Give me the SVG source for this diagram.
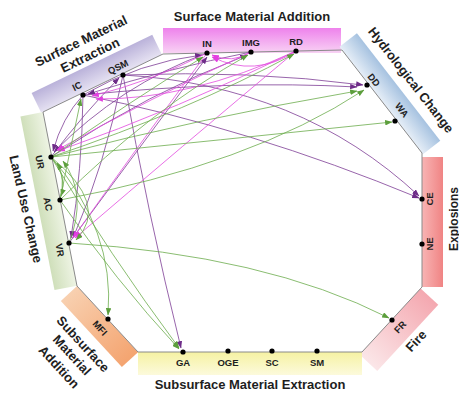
<svg xmlns="http://www.w3.org/2000/svg" width="459" height="394" viewBox="0 0 459 394">
<defs>
<style>
.e{fill:none;stroke-width:0.8}
.p{stroke:#7e3d96;marker-end:url(#ap)}
.m{stroke:#e24ade;marker-end:url(#am)}
.g{stroke:#6cac4c;marker-end:url(#ag)}
.dot{fill:#000}
.t{font-family:"Liberation Sans",Arial,sans-serif;font-weight:bold;fill:#1e1e1e}
.nl{font-size:9.5px}
.gl{font-size:13px}
.oct{fill:none;stroke:#8a8a8a;stroke-width:1}
</style>
<marker id="ap" viewBox="0 0 8 6" refX="7.5" refY="3" markerWidth="7.5" markerHeight="5.5" markerUnits="userSpaceOnUse" orient="auto"><path d="M0,0 L8,3 L0,6 z" fill="#6e2c88"/></marker>
<marker id="am" viewBox="0 0 8 6" refX="7.5" refY="3" markerWidth="7.5" markerHeight="5.5" markerUnits="userSpaceOnUse" orient="auto"><path d="M0,0 L8,3 L0,6 z" fill="#e33ee0"/></marker>
<marker id="ag" viewBox="0 0 8 6" refX="7.5" refY="3" markerWidth="7.5" markerHeight="5.5" markerUnits="userSpaceOnUse" orient="auto"><path d="M0,0 L8,3 L0,6 z" fill="#5c9e3c"/></marker>
<linearGradient id="gSMA" x1="0" y1="0" x2="0" y2="1"><stop offset="0" stop-color="#ee82ec"/><stop offset="1" stop-color="#f8d2f4"/></linearGradient>
<linearGradient id="gSME" x1="0" y1="0" x2="0" y2="1"><stop offset="0" stop-color="#bab2da"/><stop offset="1" stop-color="#e6e2f2"/></linearGradient>
<linearGradient id="gHC" x1="0" y1="0" x2="0" y2="1"><stop offset="0" stop-color="#a6c2e0"/><stop offset="1" stop-color="#e6eef7"/></linearGradient>
<linearGradient id="gEX" x1="0" y1="0" x2="1" y2="0"><stop offset="0" stop-color="#f8b4b4"/><stop offset="1" stop-color="#f08484"/></linearGradient>
<linearGradient id="gFI" x1="0" y1="0" x2="1" y2="0"><stop offset="0" stop-color="#f4a8b0"/><stop offset="1" stop-color="#fbe6e8"/></linearGradient>
<linearGradient id="gSSE" x1="0" y1="0" x2="0" y2="1"><stop offset="0" stop-color="#f6f2a2"/><stop offset="1" stop-color="#fcfadc"/></linearGradient>
<linearGradient id="gSSA" x1="0" y1="0" x2="1" y2="0"><stop offset="0" stop-color="#f8d0b0"/><stop offset="1" stop-color="#f4a470"/></linearGradient>
<linearGradient id="gLU" x1="0" y1="0" x2="0" y2="1"><stop offset="0" stop-color="#eef4e4"/><stop offset="1" stop-color="#cfdfba"/></linearGradient>
</defs>

<g id="bands">
<rect x="163" y="28" width="178" height="25" fill="url(#gSMA)"/>
<g transform="translate(43,112) rotate(-25.8)"><rect x="-2" y="-22" width="134" height="22" fill="url(#gSME)"/></g>
<g transform="translate(342,50) rotate(52.2)"><rect x="-4" y="-22" width="136" height="22" fill="url(#gHC)"/></g>
<rect x="422" y="157" width="21" height="130" fill="url(#gEX)"/>
<g transform="translate(422,287) rotate(132.7)"><rect x="2" y="-24" width="90" height="24" fill="url(#gFI)"/></g>
<rect x="138" y="352" width="224" height="23" fill="url(#gSSE)"/>
<g transform="translate(77,286) rotate(47.3)"><rect x="0" y="0" width="90" height="22" fill="url(#gSSA)"/></g>
<g transform="translate(43,112) rotate(78.9)"><rect x="0" y="0" width="177" height="23" fill="url(#gLU)"/></g>
<polygon class="oct" points="163,54 342,50 422,153 422,287 362,352 138,352 77,286 43,112"/>
</g>

<g id="group-labels" class="t gl">
<text x="252" y="21" text-anchor="middle">Surface Material Addition</text>
<g transform="translate(81,41) rotate(-25.8)"><text y="4.5" text-anchor="middle">Surface Material</text></g>
<g transform="translate(90,55) rotate(-25.8)"><text y="4.5" text-anchor="middle">Extraction</text></g>
<g transform="translate(411,80) rotate(52)"><text y="4.5" text-anchor="middle">Hydrological Change</text></g>
<g transform="translate(453,219) rotate(-90)"><text y="4.5" text-anchor="middle" font-size="12">Explosions</text></g>
<g transform="translate(416,341) rotate(-47.3)"><text y="4.5" text-anchor="middle">Fire</text></g>
<text x="250" y="389" text-anchor="middle">Subsurface Material Extraction</text>
<g transform="translate(83,344) rotate(47.3)"><text y="4.5" text-anchor="middle">Subsurface</text></g>
<g transform="translate(72,355) rotate(47.3)"><text y="4.5" text-anchor="middle">Material</text></g>
<g transform="translate(59,367) rotate(47.3)"><text y="4.5" text-anchor="middle">Addition</text></g>
<g transform="translate(26,209) rotate(77)"><text y="4.5" text-anchor="middle">Land Use Change</text></g>
</g>

<g id="connectors">
<path class="e p" d="M83,95 Q250,128 419,198"/>
<path class="e p" d="M123,75 Q300,85 419,196"/>
<path class="e p" d="M83,95 Q230,80 357,87"/>
<path class="e p" d="M123,75 Q250,70 363,85"/>
<path class="e p" d="M123,75 Q148,215 181,348"/>
<path class="e p" d="M51,157 Q85,112 119,78"/>
<path class="e p" d="M251,52 Q170,68 88,94"/>
<path class="e p" d="M207,53 Q120,85 54,152"/>
<path class="e p" d="M83,95 Q62,118 53,151"/>
<path class="e p" d="M83,95 Q82,170 71,238"/>
<path class="e p" d="M123,75 Q105,165 73,238"/>
<path class="e p" d="M69,243 Q160,120 207,57"/>
<path class="e p" d="M83,95 Q140,62 202,55"/>
<path class="e p" d="M51,157 Q150,92 247,55"/>
<path class="e m" d="M251,52 Q232,64 212,55"/>
<path class="e m" d="M296,51 Q255,78 212,57"/>
<path class="e m" d="M207,53 Q150,82 92,96"/>
<path class="e m" d="M296,51 Q190,100 96,99"/>
<path class="e m" d="M296,51 Q180,108 58,151"/>
<path class="e m" d="M251,52 Q150,98 57,150"/>
<path class="e m" d="M296,51 Q180,148 75,238"/>
<path class="e m" d="M207,53 Q135,150 73,238"/>
<path class="e g" d="M51,157 Q220,140 392,122"/>
<path class="e g" d="M51,157 Q200,118 357,91"/>
<path class="e g" d="M60,200 Q250,165 364,90"/>
<path class="e g" d="M69,243 Q265,255 389,318"/>
<path class="e g" d="M51,157 Q110,255 179,348"/>
<path class="e g" d="M60,200 Q115,280 179,349"/>
<path class="e g" d="M51,157 Q115,230 108,315"/>
<path class="e g" d="M51,157 Q135,98 203,57"/>
<path class="e g" d="M60,200 Q150,110 248,55"/>
<path class="e g" d="M51,157 Q190,110 294,54"/>
<path class="e g" d="M60,200 Q66,178 57,163"/>
<path class="e g" d="M69,243 Q88,195 63,161"/>
<path class="e g" d="M51,157 Q68,175 61,196"/>
<path class="e g" d="M60,200 Q70,150 81,99"/>
<path class="e g" d="M51,157 Q110,205 76,240"/>
</g>

<g id="nodes" class="t nl">
<g id="IN"><circle class="dot" cx="207" cy="53" r="2.6"/><text x="207" y="47" text-anchor="middle">IN</text></g>
<g id="IMG"><circle class="dot" cx="251" cy="52" r="2.6"/><text x="251" y="46" text-anchor="middle">IMG</text></g>
<g id="RD"><circle class="dot" cx="296" cy="51" r="2.6"/><text x="296" y="45" text-anchor="middle">RD</text></g>
<g id="IC"><circle class="dot" cx="83" cy="95" r="2.6"/><g transform="translate(77,86) rotate(-25.8)"><text y="3.4" text-anchor="middle">IC</text></g></g>
<g id="QSM"><circle class="dot" cx="123" cy="75" r="2.6"/><g transform="translate(118,67) rotate(-25.8)"><text y="3.4" text-anchor="middle">QSM</text></g></g>
<g id="DD"><circle class="dot" cx="367" cy="85" r="2.6"/><g transform="translate(374,80) rotate(52)"><text y="3.4" text-anchor="middle">DD</text></g></g>
<g id="WA"><circle class="dot" cx="395" cy="121" r="2.6"/><g transform="translate(402,110) rotate(52)"><text y="3.4" text-anchor="middle">WA</text></g></g>
<g id="CE"><circle class="dot" cx="422" cy="199" r="2.6"/><g transform="translate(430,199) rotate(-90)"><text y="3.4" text-anchor="middle">CE</text></g></g>
<g id="NE"><circle class="dot" cx="422" cy="244" r="2.6"/><g transform="translate(430,244) rotate(-90)"><text y="3.4" text-anchor="middle">NE</text></g></g>
<g id="FR"><circle class="dot" cx="392" cy="320" r="2.6"/><g transform="translate(400,327) rotate(-47.3)"><text y="3.4" text-anchor="middle">FR</text></g></g>
<g id="GA"><circle class="dot" cx="183" cy="352" r="2.6"/><text x="183" y="366" text-anchor="middle">GA</text></g>
<g id="OGE"><circle class="dot" cx="228" cy="351" r="2.6"/><text x="228" y="366" text-anchor="middle">OGE</text></g>
<g id="SC"><circle class="dot" cx="272" cy="351" r="2.6"/><text x="272" y="366" text-anchor="middle">SC</text></g>
<g id="SM"><circle class="dot" cx="317" cy="351" r="2.6"/><text x="317" y="366" text-anchor="middle">SM</text></g>
<g id="MFI"><circle class="dot" cx="108" cy="319" r="2.6"/><g transform="translate(100,328) rotate(47.3)"><text y="3.4" text-anchor="middle">MFI</text></g></g>
<g id="UR"><circle class="dot" cx="51" cy="157" r="2.6"/><g transform="translate(40,162) rotate(79)"><text y="3.4" text-anchor="middle">UR</text></g></g>
<g id="AC"><circle class="dot" cx="60" cy="200" r="2.6"/><g transform="translate(48,204) rotate(79)"><text y="3.4" text-anchor="middle">AC</text></g></g>
<g id="VR"><circle class="dot" cx="69" cy="243" r="2.6"/><g transform="translate(60,250) rotate(79)"><text y="3.4" text-anchor="middle">VR</text></g></g>
</g>
</svg>
